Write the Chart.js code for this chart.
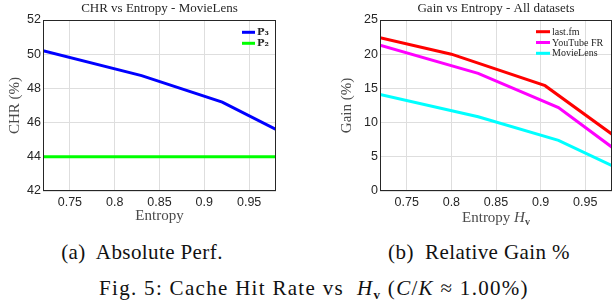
<!DOCTYPE html>
<html>
<head>
<meta charset="utf-8">
<script src="https://cdn.jsdelivr.net/npm/chart.js@4.4.0/dist/chart.umd.min.js"></script>
<style>
  body { margin: 0; background: #fff; width: 613px; height: 305px; overflow: hidden; position: relative; }
  .box { position: absolute; top: 0; height: 226px; }
  .cap { position: absolute; font-family: "Liberation Serif", serif; font-size: 21px; line-height: 21px;
         letter-spacing: 0.4px; color: #111; white-space: nowrap; transform: translateX(-50%); }
  .cap sub { font-size: 13px; line-height: 0; vertical-align: -4px; }
  .fig { letter-spacing: 1.3px; }
</style>
</head>
<body>
<div class="box" style="left:0; width:300px;"><canvas id="chrChart"></canvas></div>
<div class="box" style="left:306px; width:307px;"><canvas id="gainChart"></canvas></div>
<div class="cap" style="left:142px; top:242px;">(a)&nbsp; Absolute Perf.</div>
<div class="cap" style="left:479px; top:242px;">(b)&nbsp; Relative Gain %</div>
<div class="cap fig" style="left:314px; top:278px;">Fig. 5: Cache Hit Rate vs&nbsp; <i>H</i><sub><b>v</b></sub> (<i>C</i>/<i>K</i> ≈ 1.00%)</div>

<script>
// (a) CHR vs entropy, MovieLens
const entropyP3 = [0.72, 0.83, 0.92, 0.98];
const chrP3 = [50.2, 48.75, 47.2, 45.6];
const entropyP2 = [0.72, 0.98];
const chrP2 = [44, 44];
const chrTicks = [42, 44, 46, 48, 50, 52];

// (b) relative gain vs entropy, all datasets
const entropyLastfm = [0.72, 0.80, 0.905, 0.98];
const gainLastfm = [22.4, 20.0, 15.4, 8.3];
const entropyYoutube = [0.72, 0.83, 0.92, 0.98];
const gainYoutube = [21.3, 17.2, 12.2, 6.4];
const entropyMovielens = [0.72, 0.83, 0.92, 0.98];
const gainMovielens = [14.1, 10.85, 7.4, 3.7];
const gainTicks = [0, 5, 10, 15, 20, 25];

const entropyTicks = [0.75, 0.8, 0.85, 0.9, 0.95];

const toPoints = (xs, ys) => xs.map((x, i) => ({ x: x, y: ys[i] }));

const tickFont = { family: 'Liberation Sans', size: 12.5 };
const gridColor = '#dedede';
const inkColor = '#262626';

// box round the axes, like matlab's "box on"
const framePlugin = {
  id: 'frame',
  afterDatasetsDraw(chart) {
    const a = chart.chartArea, ctx = chart.ctx;
    ctx.save();
    ctx.strokeStyle = inkColor;
    ctx.lineWidth = 1;
    ctx.strokeRect(Math.round(a.left) + 0.5, Math.round(a.top) + 0.5,
                   Math.round(a.right - a.left) - 1, Math.round(a.bottom - a.top) - 1);
    ctx.restore();
  }
};

// legend drawn inside the axes, top right corner
const innerLegendPlugin = {
  id: 'innerLegend',
  afterDatasetsDraw(chart, args, opts) {
    const a = chart.chartArea, ctx = chart.ctx;
    ctx.save();
    ctx.font = opts.font;
    ctx.textBaseline = 'middle';
    chart.data.datasets.forEach((ds, i) => {
      const y = a.top + opts.top + i * opts.rowH;
      ctx.strokeStyle = ds.borderColor;
      ctx.lineWidth = 3;
      ctx.beginPath();
      ctx.moveTo(a.right - opts.lineStart, y);
      ctx.lineTo(a.right - opts.lineStart + opts.lineLen, y);
      ctx.stroke();
      ctx.fillStyle = inkColor;
      ctx.fillText(ds.label, a.right - opts.lineStart + opts.lineLen + 2, y + 0.5);
    });
    ctx.restore();
  }
};

// x title with mixed styles: Entropy H_v
const partsTitlePlugin = {
  id: 'partsTitle',
  afterDraw(chart, args, opts) {
    if (!opts.parts) return;
    const a = chart.chartArea, ctx = chart.ctx;
    ctx.save();
    ctx.textBaseline = 'alphabetic';
    let total = 0;
    opts.parts.forEach(p => { ctx.font = p.font; total += ctx.measureText(p.text).width; });
    let x = (a.left + a.right) / 2 - total / 2;
    opts.parts.forEach(p => {
      ctx.font = p.font;
      ctx.fillStyle = opts.color;
      ctx.fillText(p.text, x, opts.baseline + (p.dy || 0));
      x += ctx.measureText(p.text).width;
    });
    ctx.restore();
  }
};

function makeOptions(cfg) {
  return {
    responsive: true,
    maintainAspectRatio: false,
    animation: false,
    layout: { padding: { right: cfg.padRight, left: 0, bottom: 0 } },
    elements: { point: { radius: 0 }, line: { borderWidth: 3, tension: 0 } },
    plugins: {
      legend: { display: false },
      tooltip: { enabled: false },
      title: {
        display: true,
        text: cfg.title,
        fullSize: false,
        color: inkColor,
        font: { family: 'Liberation Serif', size: 13, weight: 'normal', lineHeight: 1.2 },
        padding: { top: 1, bottom: 3.4 }
      },
      innerLegend: cfg.legend,
      partsTitle: cfg.parts || {}
    },
    scales: {
      x: {
        type: 'linear',
        min: 0.72,
        max: 0.98,
        afterFit(scale) { scale.height = 35; },
        afterBuildTicks(scale) { scale.ticks = entropyTicks.map(v => ({ value: v })); },
        ticks: {
          color: inkColor, font: tickFont, padding: 4, maxRotation: 0,
          callback: v => String(+v.toFixed(2))
        },
        grid: { color: gridColor, drawTicks: false },
        border: { display: false },
        title: {
          display: !cfg.parts,
          text: 'Entropy',
          color: '#4a4a4a',
          font: { family: 'Liberation Serif', size: 15, lineHeight: 1.2 },
          padding: { top: 0, bottom: 1 }
        }
      },
      y: {
        min: cfg.yTicks[0],
        max: cfg.yTicks[cfg.yTicks.length - 1],
        afterFit(scale) { scale.width = cfg.yWidth; },
        afterBuildTicks(scale) { scale.ticks = cfg.yTicks.map(v => ({ value: v })); },
        ticks: { color: inkColor, font: tickFont, padding: 2 },
        grid: { color: gridColor, drawTicks: false },
        border: { display: false },
        title: {
          display: true,
          text: cfg.yTitle,
          color: '#4a4a4a',
          font: { family: 'Liberation Serif', size: 15, lineHeight: 1.2 },
          padding: { top: cfg.yTitlePad, bottom: 0 }
        }
      }
    }
  };
}

new Chart(document.getElementById('chrChart').getContext('2d'), {
  type: 'line',
  data: {
    datasets: [
      { label: 'P\u2083', data: toPoints(entropyP3, chrP3), borderColor: '#0000ff' },
      { label: 'P\u2082', data: toPoints(entropyP2, chrP2), borderColor: '#00ff00' }
    ]
  },
  options: makeOptions({
    title: 'CHR vs Entropy - MovieLens',
    yTitle: 'CHR (%)',
    yTicks: chrTicks,
    yWidth: 43,
    yTitlePad: 5.6,
    padRight: 24,
    legend: { font: 'bold 10px "DejaVu Serif"', top: 12.3, rowH: 11, lineStart: 34, lineLen: 13 }
  }),
  plugins: [framePlugin, innerLegendPlugin, partsTitlePlugin]
});

new Chart(document.getElementById('gainChart').getContext('2d'), {
  type: 'line',
  data: {
    datasets: [
      { label: 'last.fm', data: toPoints(entropyLastfm, gainLastfm), borderColor: '#ff0000' },
      { label: 'YouTube FR', data: toPoints(entropyYoutube, gainYoutube), borderColor: '#ff00ff' },
      { label: 'MovieLens', data: toPoints(entropyMovielens, gainMovielens), borderColor: '#00ffff' }
    ]
  },
  options: makeOptions({
    title: 'Gain vs Entropy - All datasets',
    yTitle: 'Gain (%)',
    yTicks: gainTicks,
    yWidth: 74,
    yTitlePad: 32,
    padRight: 1,
    legend: { font: '10px "Liberation Serif"', top: 11.7, rowH: 10.8, lineStart: 76, lineLen: 14 },
    parts: {
      color: '#4a4a4a',
      baseline: 221.5,
      parts: [
        { text: 'Entropy ', font: '15px "Liberation Serif"' },
        { text: 'H', font: 'italic 15px "Liberation Serif"' },
        { text: 'v', font: 'bold 10px "Liberation Serif"', dy: 3 }
      ]
    }
  }),
  plugins: [framePlugin, innerLegendPlugin, partsTitlePlugin]
});
</script>
</body>
</html>
